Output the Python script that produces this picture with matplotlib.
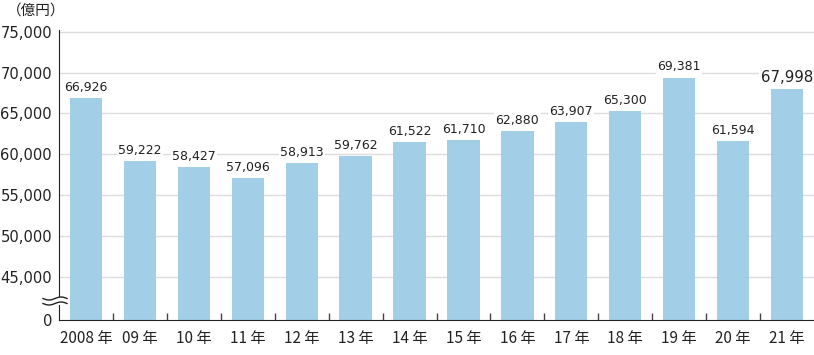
import numpy as np
import matplotlib
matplotlib.use("Agg")
import matplotlib.pyplot as plt
from matplotlib.lines import Line2D
from matplotlib.patches import Rectangle

plt.rcParams['font.family'] = ['Noto Sans CJK JP', 'DejaVu Sans']

categories = ["2008 年", "09 年", "10 年", "11 年", "12 年", "13 年", "14 年",
              "15 年", "16 年", "17 年", "18 年", "19 年", "20 年", "21 年"]
values = [66926, 59222, 58427, 57096, 58913, 59762, 61522,
          61710, 62880, 63907, 65300, 69381, 61594, 67998]
ytick_values = [45000, 50000, 55000, 60000, 65000, 70000, 75000]
ytick_labels = ["45,000", "50,000", "55,000", "60,000", "65,000", "70,000", "75,000"]
zero_pos = 39760  # where "0" sits on the broken axis

W, H = 814, 355
fig = plt.figure(figsize=(W / 100, H / 100), dpi=100)
ax = fig.add_axes([59 / W, 1 - 320 / H, 1 - 59 / W, (320 - 30) / H])

x = np.arange(len(categories))
bar_color = "#A3CEE8"
ax.bar(x, values, width=0.6, color=bar_color, zorder=2)

ax.set_xlim(-0.5, len(categories) - 0.5)
ax.set_ylim(zero_pos, 75200)

ax.set_yticks([zero_pos] + ytick_values)
ax.set_yticklabels(["0"] + ytick_labels, fontsize=10.6, color="#222222", family=['DejaVu Sans'])
ax.tick_params(axis='y', length=0, pad=5)
for yv in ytick_values:
    ax.axhline(yv, color="#dcdcdc", lw=1, zorder=1)

ax.set_xticks(x)
ax.set_xticklabels(categories, fontsize=11, color="#222222")
ax.tick_params(axis='x', length=0, pad=7)
ax.set_xticks(np.arange(len(categories) - 1) + 0.5, minor=True)
ax.tick_params(axis='x', which='minor', direction='in', length=5, width=1, color="#444444")

for s in ["top", "right"]:
    ax.spines[s].set_visible(False)
ax.spines["left"].set_color("#222222")
ax.spines["bottom"].set_color("#222222")
ax.spines["left"].set_zorder(3)

for i, v in enumerate(values):
    fs = 10.8 if i == len(values) - 1 else 9
    ax.annotate(f"{v:,}", (x[i], v), xytext=(0, 3), textcoords="offset points",
                ha="center", va="bottom", fontsize=fs, color="#222222", zorder=4,
                family=['DejaVu Sans'],
                bbox=dict(boxstyle="square,pad=0.1", fc="white", ec="none"))

# break mark on the y axis
fig.patches.append(Rectangle((55 / W, 1 - 305 / H), 8 / W, 8 / H,
                             transform=fig.transFigure, fc="white", ec="none", zorder=5))
t = np.linspace(0, 1, 60)
xs = (43 + 24 * t) / W
for yc in (298.5, 303.5):
    ys = 1 - (yc + 1.5 * np.sin(2 * np.pi * t)) / H
    fig.lines.append(Line2D(xs, ys, transform=fig.transFigure, color="#222222", lw=1, zorder=6))

fig.text(7 / W, 1 - 11 / H, "（億円）", fontsize=10.5, ha="left", va="center", color="#222222")

fig.savefig("out.png", dpi=100)
